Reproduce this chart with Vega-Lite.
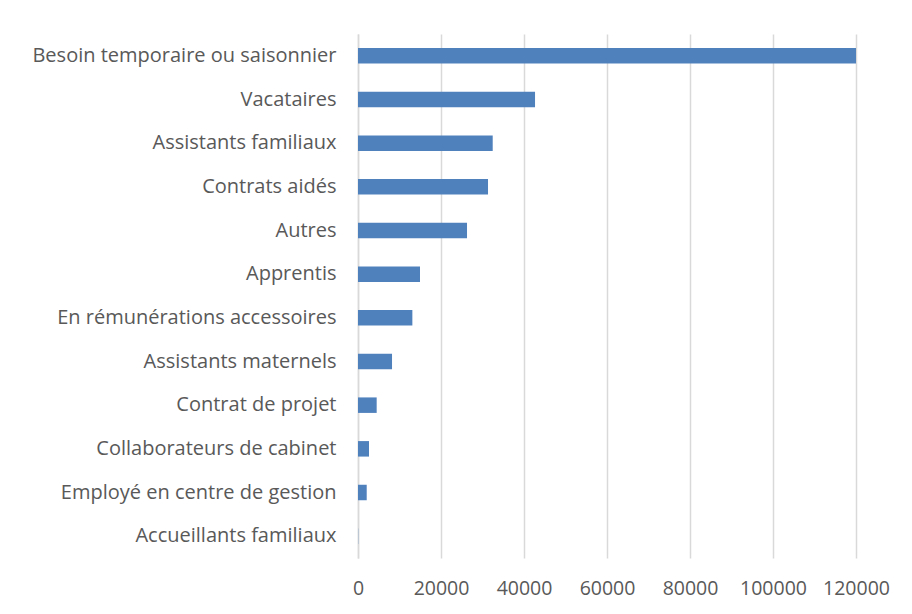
{
  "$schema": "https://vega.github.io/schema/vega-lite/v6.json",
  "width": 498,
  "height": 524,
  "autosize": {"type": "none"},
  "padding": {"left": 358, "top": 34, "right": 56, "bottom": 56},
  "background": "white",
  "config": {
    "view": {"stroke": null},
    "font": "Open Sans"
  },
  "data": {
    "values": [
      {"categorie": "Besoin temporaire ou saisonnier", "effectif": 120000},
      {"categorie": "Vacataires", "effectif": 42660},
      {"categorie": "Assistants familiaux", "effectif": 32460},
      {"categorie": "Contrats aidés", "effectif": 31330},
      {"categorie": "Autres", "effectif": 26270},
      {"categorie": "Apprentis", "effectif": 14940},
      {"categorie": "En rémunérations accessoires", "effectif": 13100},
      {"categorie": "Assistants maternels", "effectif": 8200},
      {"categorie": "Contrat de projet", "effectif": 4500},
      {"categorie": "Collaborateurs de cabinet", "effectif": 2650},
      {"categorie": "Employé en centre de gestion", "effectif": 2100},
      {"categorie": "Accueillants familiaux", "effectif": 50}
    ]
  },
  "mark": {"type": "bar", "color": "#4f81bd"},
  "encoding": {
    "y": {
      "field": "categorie",
      "type": "nominal",
      "sort": null,
      "scale": {"paddingInner": 0.645, "paddingOuter": 0.3225},
      "axis": {
        "title": null,
        "ticks": false,
        "domainColor": "#d9d9d9",
        "domainWidth": 1.5,
        "labelFontSize": 20,
        "labelColor": "#595959",
        "labelPadding": 22,
        "labelLimit": 400
      }
    },
    "x": {
      "field": "effectif",
      "type": "quantitative",
      "scale": {"domain": [0, 120000], "nice": false},
      "axis": {
        "title": null,
        "values": [0, 20000, 40000, 60000, 80000, 100000, 120000],
        "format": "d",
        "grid": true,
        "gridColor": "#d9d9d9",
        "gridWidth": 1.5,
        "domain": false,
        "ticks": false,
        "labelFontSize": 19.5,
        "labelColor": "#595959",
        "labelPadding": 21,
        "labelFlush": false
      }
    }
  }
}
